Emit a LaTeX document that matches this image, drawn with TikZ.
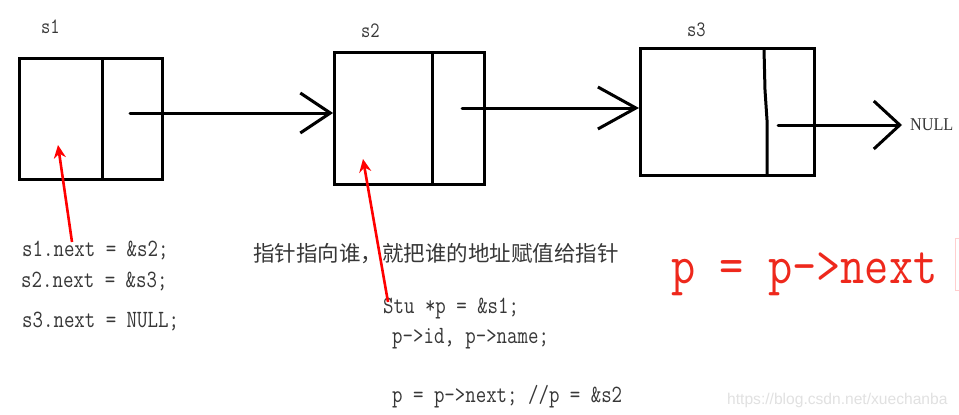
\documentclass[tikz,border=0pt]{standalone}
\usepackage{fontspec}
\newfontfamily\cjkfont{Noto Sans CJK SC}
\newfontfamily\timesfont{Liberation Serif}
\newfontfamily\wmfont{Liberation Sans}
\usetikzlibrary{arrows.meta,calc}
\definecolor{txt}{RGB}{55,55,55}
\definecolor{redtxt}{RGB}{238,40,28}
\definecolor{wm}{RGB}{225,225,225}
\newcommand\tallcode[1]{\scalebox{1}[1.22]{#1}}
\tikzset{
  cell/.style={draw=black, line width=3pt, inner sep=0pt, anchor=north west},
  divider/.style={draw=black, line width=3pt},
  ptr/.style={draw=black, line width=3pt, line cap=round},
  code/.style={anchor=base west, inner sep=0pt, text=txt, font=\ttfamily\fontsize{20.3}{24}\selectfont},
  lbl/.style={anchor=base west, inner sep=0pt, text=txt, font=\ttfamily\fontsize{18}{22}\selectfont},
  redptr/.style={draw=red, line width=2.6pt, -{Stealth[length=13pt,width=12pt]}},
}
\begin{document}
\begin{tikzpicture}[x=1pt,y=-1pt]
\useasboundingbox (0,0) rectangle (959,415);
\fill[white] (0,0) rectangle (959,415);
% boxes
\node[cell, minimum width=143pt, minimum height=121pt] (s1) at (18,57) {};
\node[cell, minimum width=150pt, minimum height=132pt] (s2) at (333,51) {};
\node[cell, minimum width=174pt, minimum height=127pt] (s3) at (639,47) {};
\draw[divider] (102,57) -- (102,178);
\draw[divider] (432,51) -- (432,183);
\draw[divider] (764,49) -- (765,90) -- (767,120) -- (767,174);
% labels
\node[lbl] (l1) at (41,34) {\tallcode{s1}};
\node[lbl] (l2) at (361,37) {\tallcode{s2}};
\node[lbl] (l3) at (687,36) {\tallcode{s3}};
% pointers
\coordinate (n1) at (130,113);
\coordinate (n2) at (462,108);
\coordinate (n3) at (778,125);
\node[anchor=base west, inner sep=0pt, text=txt, font=\timesfont\fontsize{18}{20}\selectfont] (null) at (910,130) {\scalebox{0.9}[1]{NULL}};
\draw[ptr, -{Straight Barb[length=30pt,width=40pt,line width=3pt]}] (n1) -- (n1 -| s2.west);
\draw[ptr, -{Straight Barb[length=38pt,width=42pt,line width=3pt]}] (n2) -- (n2 -| s3.west);
\draw[ptr, -{Straight Barb[length=26pt,width=48pt,line width=3pt]}] (n3) -- ($(null.west |- n3)+(-8,0)$);
% code text
\node[code] (c1) at (22,256) {\tallcode{s1.next = \&s2;}};
\node[code] (c2) at (21,287) {\tallcode{s2.next = \&s3;}};
\node[code] (c3) at (22,327) {\tallcode{s3.next = NULL;}};
\node[anchor=base west, inner sep=0pt, text=txt, font=\cjkfont\fontsize{21.5}{24}\selectfont] (cn) at (253,261) {指针指向谁，就把谁的地址赋值给指针};
\node[code] (c4) at (383,313) {\tallcode{Stu *p = \&s1;}};
\node[code] (c5) at (392,343) {\tallcode{p->id, p->name;}};
\node[code] (c6) at (392,402) {\tallcode{p = p->next; //p = \&s2}};
\node[anchor=base west, inner sep=0pt, text=redtxt, font=\ttfamily\fontsize{47}{50}\selectfont] (big) at (671,283) {\scalebox{1}[1.18]{p = p->next}};
\draw[draw=pink!70!red!40, line width=1pt] (955,238) rectangle (960,290);
\node[anchor=base west, inner sep=0pt, text=wm, font=\wmfont\fontsize{15.6}{18}\selectfont] (wmk) at (727,404) {https://blog.csdn.net/xuechanba};
% red arrows
\coordinate (r1s) at (72,242);
\coordinate (r1e) at (58,145);
\coordinate (r2s) at (388,302);
\coordinate (r2e) at (363,159);
\draw[redptr] (r1s) -- (r1e);
\draw[redptr] (r2s) -- (r2e);
\end{tikzpicture}
\end{document}
